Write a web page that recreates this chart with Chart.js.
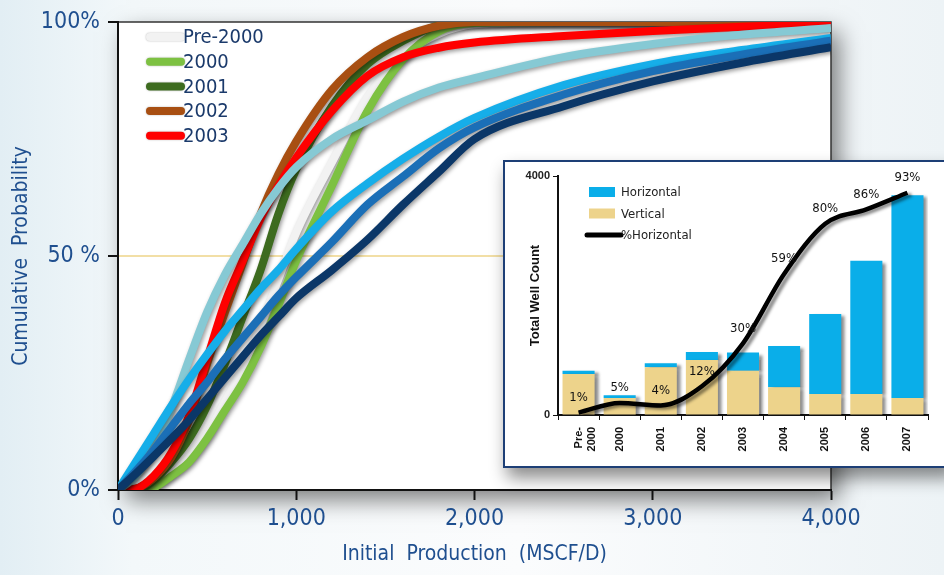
<!DOCTYPE html>
<html>
<head>
<meta charset="utf-8">
<script src="https://cdn.jsdelivr.net/npm/chart.js@4.4.1/dist/chart.umd.min.js"></script>
<style>
  html, body { margin: 0; padding: 0; }
  body {
    width: 944px; height: 575px; overflow: hidden; position: relative;
    background: linear-gradient(90deg, #e2eef4 0%, #f3f8fa 14%, #fbfcfd 55%, #edf3f6 100%);
  }
  #main { position: absolute; left: 0; top: 0; }
  #insetBox {
    position: absolute; left: 503px; top: 160px; width: 445px; height: 304px;
    background: #fff; border: 2px solid #1d3f76;
    box-shadow: 4px 10px 16px rgba(0,0,0,0.45);
  }
  #inset { display: block; }
</style>
</head>
<body>
<canvas id="main" width="944" height="575"></canvas>
<div id="insetBox"><canvas id="inset" width="445" height="304"></canvas></div>
<script>
// main chart: cumulative probability (%) at each initial production value
const production = [0, 100, 200, 300, 400, 500, 600, 700, 800, 900, 1000, 1200, 1400, 1600, 1800, 2000, 2500, 3000, 3500, 4000];
const seriesNames = ['Pre-2000', '2000', '2001', '2002', '2003', '2004', '2005', '2006', '2007'];
const cumPre2000 = [0, 0, 1, 3.5, 7, 12, 19, 26, 35, 45, 55, 70, 84, 93, 97.5, 99.5, 100, 100, 100, 100];
const cum2000 = [0, 0, 0.5, 3, 6, 11, 17, 23, 30.5, 39.5, 49, 65, 81, 92, 98, 99.8, 100, 100, 100, 100];
const cum2001 = [0, 0, 2, 6, 11, 18, 27, 37, 47, 59, 68.5, 82, 91, 96, 99.3, 100, 100, 100, 100, 100];
const cum2002 = [0, 0.3, 2.5, 7, 15, 27, 38, 48.5, 59, 67.5, 74.5, 85.5, 92.5, 96.8, 99.2, 100, 100, 100, 100, 100];
const cum2003 = [0, 0.3, 3, 8, 16, 28, 40, 49, 58, 65, 71, 81, 88.5, 92.5, 94.5, 95.6, 97, 98.1, 99, 99.6];
const cum2004 = [0, 3, 9, 17.5, 28, 38, 46, 52.5, 59, 64.5, 69, 75, 79, 83, 86, 88, 92.5, 95.3, 97.3, 98.7];
const cum2005 = [0, 6, 12, 18, 23.7, 29, 34, 38.5, 43, 47, 51.5, 59.5, 65.5, 70.8, 75.5, 79.5, 86.5, 91, 94, 96.6];
const cum2006 = [0, 4, 8.5, 13.5, 18.5, 23, 28, 32.5, 37, 41.5, 45.5, 53, 61, 67, 73, 77.5, 84.5, 89.5, 93, 96];
const cum2007 = [0, 3.5, 7.2, 11, 15, 19.5, 24, 28.5, 33, 37, 41, 47, 53.5, 61, 68, 75, 82, 87.3, 91.3, 94.6];
const cumSeries = [cumPre2000, cum2000, cum2001, cum2002, cum2003, cum2004, cum2005, cum2006, cum2007];
const seriesColors = ['#f2f2f2', '#7dc142', '#3d6b1f', '#a84f12', '#ff0000', '#86c9d4', '#16aee9', '#1b6fb7', '#0b3768'];
const legendCount = 5; // only the first five years are in the legend

// inset chart: well counts per year
const wellYears = [['Pre-', '2000'], '2000', '2001', '2002', '2003', '2004', '2005', '2006', '2007'];
const verticalWells = [686, 285, 800, 920, 742, 463, 352, 352, 285];
const horizontalWells = [56, 45, 65, 135, 303, 692, 1338, 2231, 3392];
const pctHorizontal = [1, 5, 4, 12, 30, 59, 80, 86, 93];

const narrow = "'Liberation Sans Narrow', 'Arial Narrow', 'DejaVu Sans Condensed', sans-serif";
const arial = "'Liberation Sans', Arial, sans-serif";
const axisBlue = '#1f4f8f';

// drop shadow under each dataset
const shadowPlugin = {
    id: 'shadow',
    beforeDatasetDraw(chart, args, opts) {
        const ctx = chart.ctx;
        ctx.save();
        ctx.shadowColor = opts.color;
        ctx.shadowBlur = opts.blur;
        ctx.shadowOffsetX = opts.dx;
        ctx.shadowOffsetY = opts.dy;
    },
    afterDatasetDraw(chart) {
        chart.ctx.restore();
    }
};

// white plot area with a soft shadow and thin frame
const plotBg = {
    id: 'plotBg',
    beforeDraw(chart) {
        const {ctx, chartArea: a} = chart;
        ctx.save();
        ctx.shadowColor = 'rgba(0,0,0,0.5)';
        ctx.shadowBlur = 22;
        ctx.shadowOffsetX = 8;
        ctx.shadowOffsetY = 10;
        ctx.fillStyle = '#fff';
        ctx.fillRect(a.left, a.top, a.right - a.left, a.bottom - a.top);
        ctx.restore();
        ctx.save();
        ctx.strokeStyle = '#333';
        ctx.lineWidth = 1.5;
        ctx.beginPath();
        ctx.moveTo(a.left, a.top);
        ctx.lineTo(a.right, a.top);
        ctx.lineTo(a.right, a.bottom);
        ctx.stroke();
        ctx.restore();
    }
};

// legend in the top-left corner of the plot
const mainLegend = {
    id: 'mainLegend',
    afterDatasetsDraw(chart) {
        const ctx = chart.ctx;
        ctx.save();
        ctx.font = '20px ' + narrow;
        ctx.textBaseline = 'middle';
        for (let i = 0; i < legendCount; i++) {
            const y = 37 + i * 24.7;
            ctx.save();
            ctx.shadowColor = 'rgba(0,0,0,0.3)';
            ctx.shadowBlur = 2;
            ctx.strokeStyle = seriesColors[i];
            ctx.lineWidth = 8;
            ctx.lineCap = 'round';
            ctx.beginPath();
            ctx.moveTo(150, y);
            ctx.lineTo(181, y);
            ctx.stroke();
            ctx.restore();
            ctx.fillStyle = '#1b3a6b';
            ctx.fillText(seriesNames[i], 183, y + 1);
        }
        ctx.restore();
    }
};

new Chart(document.getElementById('main'), {
    type: 'line',
    data: {
        datasets: seriesNames.map((name, i) => ({
            label: name,
            data: production.map((x, j) => ({x: x, y: cumSeries[i][j]})),
            borderColor: seriesColors[i],
            borderWidth: 8,
            pointRadius: 0,
            fill: false,
            cubicInterpolationMode: 'monotone',
            order: seriesNames.length - 1 - i
        }))
    },
    options: {
        responsive: false,
        animation: false,
        layout: { padding: { top: 22, right: 113, left: 0, bottom: 0 } },
        plugins: {
            legend: { display: false },
            tooltip: { enabled: false },
            shadow: { color: 'rgba(0,0,0,0.4)', blur: 4, dx: 1.5, dy: 2 }
        },
        scales: {
            x: {
                type: 'linear',
                min: 0,
                max: 4000,
                ticks: {
                    stepSize: 1000,
                    maxRotation: 0,
                    padding: 5,
                    color: axisBlue,
                    font: { family: narrow, size: 23 },
                    callback: v => v.toLocaleString('en-US')
                },
                grid: { drawOnChartArea: false, tickLength: 10, tickColor: '#111', tickWidth: 2 },
                border: { color: '#111', width: 2 },
                title: {
                    display: true,
                    text: 'Initial  Production  (MSCF/D)',
                    color: axisBlue,
                    font: { family: narrow, size: 21 },
                    padding: { top: 2, bottom: 8 }
                },
                afterFit: s => { s.height = 85; }
            },
            y: {
                min: 0,
                max: 100,
                ticks: {
                    stepSize: 50,
                    padding: 8,
                    color: axisBlue,
                    font: { family: narrow, size: 23 },
                    callback: v => v === 50 ? '50 %' : v + '%'
                },
                grid: {
                    color: c => c.tick && c.tick.value === 50 ? '#f2dfa6' : 'rgba(0,0,0,0)',
                    lineWidth: 2,
                    tickLength: 10,
                    tickColor: '#111',
                    tickWidth: 2
                },
                border: { color: '#111', width: 2 },
                title: {
                    display: true,
                    text: 'Cumulative  Probability',
                    color: axisBlue,
                    font: { family: narrow, size: 21 },
                    padding: { top: 9, bottom: 0 }
                },
                afterFit: s => { s.width = 118; }
            }
        }
    },
    plugins: [plotBg, shadowPlugin, mainLegend]
});

// percentage labels on the %Horizontal line, plus the inset legend
const pctLabels = {
    id: 'pctLabels',
    afterDatasetsDraw(chart) {
        const ctx = chart.ctx;
        const meta = chart.getDatasetMeta(0);
        ctx.save();
        ctx.font = '13px ' + narrow;
        ctx.fillStyle = '#111';
        ctx.textAlign = 'center';
        ctx.textBaseline = 'middle';
        meta.data.forEach((p, i) => {
            ctx.fillText(pctHorizontal[i] + '%', p.x, p.y - 15);
        });
        ctx.restore();
    }
};

const insetLegend = {
    id: 'insetLegend',
    afterDraw(chart) {
        const ctx = chart.ctx;
        const items = [
            { text: 'Horizontal', color: '#0aaee9', box: true },
            { text: 'Vertical', color: '#edd38b', box: true },
            { text: '%Horizontal', color: '#000', box: false }
        ];
        ctx.save();
        ctx.font = '13px ' + narrow;
        ctx.textBaseline = 'middle';
        items.forEach((it, i) => {
            const y = 30 + i * 21.5;
            if (it.box) {
                ctx.fillStyle = it.color;
                ctx.fillRect(84, y - 5, 26, 10);
            } else {
                ctx.strokeStyle = it.color;
                ctx.lineWidth = 5;
                ctx.lineCap = 'round';
                ctx.beginPath();
                ctx.moveTo(82, y);
                ctx.lineTo(116, y);
                ctx.stroke();
            }
            ctx.fillStyle = '#222';
            ctx.fillText(it.text, 116, y + 1);
        });
        ctx.restore();
    }
};

new Chart(document.getElementById('inset'), {
    type: 'bar',
    data: {
        labels: wellYears,
        datasets: [
            {
                type: 'line',
                label: '%Horizontal',
                data: pctHorizontal,
                yAxisID: 'pct',
                borderColor: '#000',
                borderWidth: 4.5,
                pointRadius: 0,
                cubicInterpolationMode: 'monotone',
                order: 0
            },
            {
                label: 'Vertical',
                data: verticalWells,
                backgroundColor: '#edd38b',
                stack: 'wells',
                order: 1
            },
            {
                label: 'Horizontal',
                data: horizontalWells,
                backgroundColor: '#0aaee9',
                stack: 'wells',
                order: 2
            }
        ]
    },
    options: {
        responsive: false,
        animation: false,
        layout: { padding: { top: 14, right: 22, left: 0, bottom: 0 } },
        datasets: { bar: { categoryPercentage: 1, barPercentage: 0.78 } },
        plugins: {
            legend: { display: false },
            tooltip: { enabled: false },
            shadow: { color: 'rgba(0,0,0,0.45)', blur: 3, dx: 4, dy: 2 }
        },
        scales: {
            x: {
                stacked: true,
                ticks: {
                    autoSkip: false,
                    minRotation: 90,
                    maxRotation: 90,
                    padding: 7,
                    color: '#111',
                    font: { family: arial, size: 11, weight: 'bold' }
                },
                grid: { drawOnChartArea: false, tickLength: 5, tickColor: '#111' },
                border: { color: '#111', width: 2 },
                afterFit: s => { s.height = 51; }
            },
            y: {
                stacked: true,
                min: 0,
                max: 4000,
                ticks: {
                    stepSize: 4000,
                    padding: 3,
                    color: '#222',
                    font: { family: arial, size: 11, weight: 'bold' },
                    callback: v => String(v)
                },
                grid: { drawOnChartArea: false, tickLength: 5, tickColor: '#111' },
                border: { color: '#111', width: 2 },
                title: {
                    display: true,
                    text: 'Total Well Count',
                    color: '#111',
                    font: { family: arial, size: 13, weight: 'bold' },
                    padding: { top: 23, bottom: 0 }
                },
                afterFit: s => { s.width = 53; }
            },
            pct: { display: false, min: 0, max: 100 }
        }
    },
    plugins: [shadowPlugin, pctLabels, insetLegend]
});
</script>
</body>
</html>
